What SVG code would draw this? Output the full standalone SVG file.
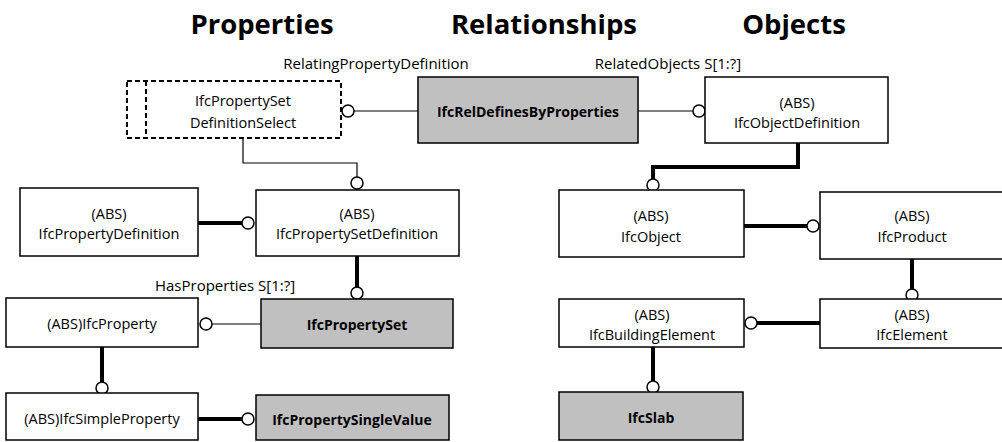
<svg xmlns="http://www.w3.org/2000/svg" width="1002" height="442" viewBox="0 0 1002 442">
<style>
text{font-family:"Open Sans","Liberation Sans",sans-serif;fill:#000;text-anchor:middle;dominant-baseline:central}
.h{font-size:27.5px;font-weight:bold}
.t{font-size:14.5px}
.l{font-size:15px}
.b{font-size:14px;font-weight:bold}
.box{fill:#fff;stroke:#000;stroke-width:1.5}
.grey{fill:#c0c0c0;stroke:#000;stroke-width:1.5}
.dash{fill:#fff;stroke:#000;stroke-width:2;stroke-dasharray:5 3}
.thin{fill:none;stroke:#000;stroke-width:1.2}
.thick{fill:none;stroke:#000;stroke-width:4}
.c{fill:#fff;stroke:#000;stroke-width:1.5}
</style>
<rect width="1002" height="442" fill="#fff"/>
<g id="headers">
<text class="h" x="262" y="23">Properties</text>
<text class="h" x="544" y="23">Relationships</text>
<text class="h" x="794" y="23">Objects</text>
</g>
<g id="labels">
<text class="l" x="376" y="63">RelatingPropertyDefinition</text>
<text class="l" x="668" y="63">RelatedObjects S[1:?]</text>
<text class="l" x="225" y="285">HasProperties S[1:?]</text>
</g>
<g id="connectors">
<path class="thin" d="M354 111H418"/>
<path class="thin" d="M638 111H693"/>
<path class="thin" d="M243 138V163H357V177"/>
<path class="thick" d="M798 143V167H653V179"/>
<path class="thick" d="M198 223H242"/>
<path class="thick" d="M357 256V287"/>
<path class="thin" d="M212 324H261"/>
<path class="thick" d="M102 347V382"/>
<path class="thick" d="M198 419H242"/>
<path class="thick" d="M744 226H807"/>
<path class="thick" d="M912 259V289"/>
<path class="thick" d="M820 323H757"/>
<path class="thick" d="M653 347V381"/>
<circle class="c" cx="348" cy="111" r="6"/>
<circle class="c" cx="699" cy="111" r="6"/>
<circle class="c" cx="357" cy="183" r="6"/>
<circle class="c" cx="653" cy="185" r="6"/>
<circle class="c" cx="248" cy="223" r="6"/>
<circle class="c" cx="357" cy="293" r="6"/>
<circle class="c" cx="206" cy="324" r="6"/>
<circle class="c" cx="102" cy="388" r="6"/>
<circle class="c" cx="248" cy="419" r="6"/>
<circle class="c" cx="813" cy="226" r="6"/>
<circle class="c" cx="912" cy="295" r="6"/>
<circle class="c" cx="751" cy="323" r="6"/>
<circle class="c" cx="653" cy="387" r="6"/>
</g>
<g id="IfcPropertySetDefinitionSelect">
<rect class="dash" x="127" y="81" width="214" height="57"/>
<path class="dash" d="M146 81V138"/>
<text class="t" x="243" y="100">IfcPropertySet</text>
<text class="t" x="243" y="122">DefinitionSelect</text>
</g>
<g id="IfcRelDefinesByProperties">
<rect class="grey" x="418" y="77" width="220" height="66"/>
<text class="b" x="528" y="111">IfcRelDefinesByProperties</text>
</g>
<g id="IfcObjectDefinition">
<rect class="box" x="705" y="77" width="183" height="66"/>
<text class="t" x="797" y="102">(ABS)</text>
<text class="t" x="797" y="122">IfcObjectDefinition</text>
</g>
<g id="IfcPropertyDefinition">
<rect class="box" x="20" y="188" width="178" height="68"/>
<text class="t" x="109" y="213">(ABS)</text>
<text class="t" x="109" y="233">IfcPropertyDefinition</text>
</g>
<g id="IfcPropertySetDefinition">
<rect class="box" x="256" y="190" width="203" height="66"/>
<text class="t" x="357" y="213">(ABS)</text>
<text class="t" x="357" y="233">IfcPropertySetDefinition</text>
</g>
<g id="IfcProperty">
<rect class="box" x="6" y="298" width="192" height="49"/>
<text class="t" x="102" y="323">(ABS)IfcProperty</text>
</g>
<g id="IfcPropertySet">
<rect class="grey" x="261" y="299" width="192" height="49"/>
<text class="b" x="357" y="324">IfcPropertySet</text>
</g>
<g id="IfcSimpleProperty">
<rect class="box" x="6" y="393" width="192" height="47"/>
<text class="t" x="102" y="418">(ABS)IfcSimpleProperty</text>
</g>
<g id="IfcPropertySingleValue">
<rect class="grey" x="256" y="395" width="193" height="45"/>
<text class="b" x="352" y="419">IfcPropertySingleValue</text>
</g>
<g id="IfcObject">
<rect class="box" x="559" y="190" width="185" height="67"/>
<text class="t" x="651" y="215">(ABS)</text>
<text class="t" x="651" y="236">IfcObject</text>
</g>
<g id="IfcProduct">
<rect class="box" x="820" y="192" width="186" height="67"/>
<text class="t" x="912" y="215">(ABS)</text>
<text class="t" x="912" y="236">IfcProduct</text>
</g>
<g id="IfcBuildingElement">
<rect class="box" x="559" y="299" width="185" height="48"/>
<text class="t" x="652" y="314">(ABS)</text>
<text class="t" x="652" y="334">IfcBuildingElement</text>
</g>
<g id="IfcElement">
<rect class="box" x="820" y="299" width="186" height="49"/>
<text class="t" x="912" y="314">(ABS)</text>
<text class="t" x="912" y="334">IfcElement</text>
</g>
<g id="IfcSlab">
<rect class="grey" x="559" y="392" width="184" height="48"/>
<text class="b" x="651" y="417">IfcSlab</text>
</g>
</svg>
